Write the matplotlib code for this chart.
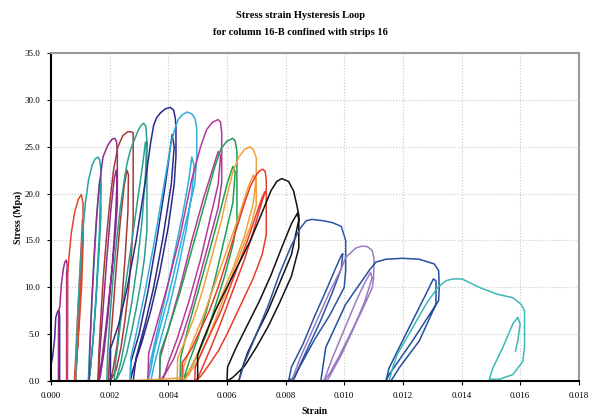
import matplotlib.pyplot as plt
from matplotlib.ticker import FormatStrFormatter

# ---------- DATA: strain / stress (MPa) traced per cycle ----------
c01_x = [0, 0, 0.00005, 0.00012, 0.00016, 0.00022, 0.00027, 0.00029, 0.00029, 0.00026, 0.00026, 0.00028, 0.00028]
c01_y = [0, 1.8, 2.5, 4.5, 6.8, 7.4, 7.6, 7.0, 0, 0, 7.1, 7.0, 0]

c02_x = [0.00025, 0.00026, 0.0003, 0.00035, 0.00042, 0.00047, 0.00052, 0.00055, 0.00055, 0.00053, 0.00053, 0.00056, 0.00056]
c02_y = [0, 7.5, 8.0, 10.3, 12.0, 12.7, 12.9, 12.4, 0, 0, 11.5, 11.8, 0]

c03_x = [0.00055, 0.00056, 0.0006, 0.00069, 0.00081, 0.00093, 0.00103, 0.00109, 0.00109, 0.00104, 0.00096, 0.00088,
         0.00082, 0.0008, 0.00086, 0.00094, 0.00102, 0.00107, 0.00109, 0.00105, 0.00097, 0.0009, 0.00084]
c03_y = [0, 11, 12.9, 15.8, 18.1, 19.4, 19.9, 19.0, 14.5, 10, 6, 2.5, 0.5, 0, 4, 9, 14, 17.2, 17.0, 13, 8, 3.5, 0]

c04_x = [0.00084, 0.00086, 0.00092, 0.001, 0.00108, 0.00117, 0.00128, 0.0014, 0.0015, 0.0016, 0.00166, 0.0017, 0.0017,
         0.00162, 0.00152, 0.00142, 0.00133, 0.00127, 0.00132, 0.00142, 0.00152, 0.0016, 0.00166, 0.00169, 0.00165,
         0.00155, 0.00145, 0.00135, 0.0013]
c04_y = [0, 3, 8, 12.5, 16, 19, 21.5, 23, 23.7, 23.9, 23.6, 22.5, 17.5, 13, 8, 4, 1, 0, 4, 10, 15.5, 19.5, 21.5, 21,
         16, 10, 5, 1.5, 0]

c05_x = [0.0013, 0.00132, 0.00138, 0.00146, 0.00155, 0.00165, 0.00177, 0.00194, 0.00208, 0.00217, 0.00223, 0.00226,
         0.00226, 0.0022, 0.0021, 0.00198, 0.00186, 0.00174, 0.00164, 0.0016, 0.00166, 0.00178, 0.0019, 0.00203,
         0.00215, 0.00222, 0.00225, 0.0022, 0.00208, 0.00194, 0.0018, 0.00168, 0.00163]
c05_y = [0, 3, 8, 13, 17.5, 21, 23.9, 25.2, 25.8, 25.9, 25.6, 24.5, 19, 16, 12.5, 9, 5.5, 2.5, 0.5, 0, 3, 8, 13, 18,
         21.5, 22.5, 21.5, 17.5, 12, 7, 3, 0.5, 0]

c06_x = [0.0016, 0.00163, 0.0017, 0.00178, 0.00188, 0.002, 0.00213, 0.00228, 0.00245, 0.00262, 0.00272, 0.0028,
         0.0028, 0.00275, 0.00265, 0.00252, 0.00238, 0.00222, 0.00205, 0.00195, 0.002, 0.0021, 0.00222, 0.00236,
         0.0025, 0.00259, 0.00264, 0.00262, 0.00252, 0.0024, 0.00226, 0.0021, 0.002]
c06_y = [0, 3, 7, 11, 15, 19, 22.5, 25, 26.2, 26.6, 26.6, 26.5, 17.2, 14, 10, 6.5, 3.5, 1.2, 0.2, 0, 3, 7, 12, 17,
         21, 22.5, 22, 18, 13, 8, 4, 1, 0]

c07_x = [0.0019, 0.00193, 0.002, 0.0021, 0.00222, 0.00236, 0.0025, 0.00259, 0.00272, 0.00285, 0.00298, 0.00308,
         0.00316, 0.00323, 0.00327, 0.00327, 0.00318, 0.00306, 0.00292, 0.00276, 0.00258, 0.0024, 0.00225, 0.00215,
         0.0022, 0.00232, 0.00246, 0.00262, 0.00278, 0.00296, 0.00312, 0.00322, 0.00326, 0.00322, 0.0031, 0.00294,
         0.00276, 0.00256, 0.00238, 0.00225, 0.0022]
c07_y = [0, 3, 6.5, 10.5, 14.5, 18.5, 21.5, 23.2, 24.8, 25.8, 26.8, 27.3, 27.5, 27.2, 25.5, 16.1, 13, 10.5, 8, 5.5,
         3, 1.2, 0.3, 0, 2, 5, 8.5, 12, 15.5, 19.5, 23, 25.5, 25.5, 22, 17, 12.5, 8.5, 5, 2, 0.5, 0]

c08_x = [0.00202, 0.00203, 0.0023, 0.0026, 0.0029, 0.0032, 0.0034, 0.0035, 0.0036, 0.00373, 0.0039, 0.00407, 0.00418,
         0.00424, 0.00426, 0.00426, 0.0042, 0.004, 0.0037, 0.0034, 0.0031, 0.0028, 0.0027, 0.00272, 0.003, 0.0033,
         0.0036, 0.0039, 0.00405, 0.00413, 0.0042, 0.0041, 0.0038, 0.0035, 0.0032, 0.0029, 0.0028]
c08_y = [0, 3.5, 6, 10, 15, 21, 25.5, 27.3, 28.1, 28.6, 29.05, 29.2, 28.9, 28.0, 27, 24, 21, 16.5, 11.5, 7.5, 4.2,
         1.3, 0, 2, 5, 9.5, 15, 21, 24.5, 26.3, 25, 21, 15, 10, 6, 2.5, 0]

c09_x = [0.0027, 0.00272, 0.0029, 0.0032, 0.0035, 0.0038, 0.0041, 0.00425, 0.00434, 0.00447, 0.00464, 0.0048,
         0.00491, 0.00497, 0.00497, 0.0049, 0.0046, 0.0043, 0.004, 0.0037, 0.0035, 0.0034, 0.0033, 0.00335, 0.0036,
         0.0039, 0.0042, 0.0045, 0.0047, 0.0048, 0.00488, 0.0048, 0.0046, 0.0043, 0.004, 0.0037, 0.0035, 0.0034]
c09_y = [0, 2.5, 5, 9.5, 14.5, 20, 25.5, 27.2, 27.9, 28.4, 28.7, 28.5, 28.0, 27, 24, 21, 17, 13, 9, 5.5, 3, 1.2, 0,
         1.5, 5, 9, 13.5, 18, 21.5, 23.9, 23, 20, 16, 11.5, 7.5, 4, 1.5, 0]

c10_x = [0.0033, 0.00333, 0.0036, 0.004, 0.0044, 0.0048, 0.0051, 0.0053, 0.0055, 0.0057, 0.00578, 0.00582, 0.00582,
         0.0057, 0.0054, 0.0051, 0.0048, 0.0045, 0.0042, 0.0039, 0.0037, 0.00372, 0.004, 0.0044, 0.0048, 0.0052,
         0.0055, 0.0057, 0.00578, 0.0057, 0.0054, 0.0051, 0.0047, 0.0043, 0.004, 0.0038]
c10_y = [0, 3, 6, 10.5, 15.5, 21.5, 25, 26.8, 27.6, 27.9, 27.6, 26.5, 21.2, 18.5, 15, 11.5, 8, 5, 2.5, 0.8, 0, 2.5,
         5.5, 10, 15, 19.5, 22.5, 24.5, 24, 21, 17, 13, 8.5, 4.5, 2, 0]

c11_x = [0.0037, 0.00372, 0.004, 0.0044, 0.0048, 0.0052, 0.0056, 0.0058, 0.006, 0.0062, 0.00628, 0.00634, 0.00634,
         0.0062, 0.0059, 0.0056, 0.0053, 0.005, 0.0047, 0.0045, 0.0044, 0.00442, 0.0047, 0.0051, 0.0055, 0.0058,
         0.006, 0.0062, 0.00628, 0.0062, 0.0059, 0.0056, 0.0053, 0.005, 0.0047, 0.0045]
c11_y = [0, 3, 5.5, 9.5, 14, 18.5, 23, 24.8, 25.6, 25.9, 25.6, 24.5, 17, 14.5, 11, 8, 5, 2.8, 1, 0.2, 0, 2.5, 6,
         10.5, 15, 18.5, 21, 22.9, 22.3, 19, 15, 11, 7.5, 4.5, 2, 0]

c12_x = [0.0043, 0.00432, 0.0046, 0.0049, 0.0052, 0.0055, 0.0058, 0.006, 0.0062, 0.0064, 0.0066, 0.00678, 0.0069,
         0.007, 0.007, 0.0068, 0.0065, 0.0062, 0.0059, 0.0056, 0.0053, 0.005, 0.0047, 0.0045, 0.00452, 0.0048,
         0.0052, 0.0056, 0.006, 0.0064, 0.0067, 0.0069, 0.00698, 0.0069, 0.0066, 0.0062, 0.0058, 0.0054, 0.005,
         0.0047, 0.00455]
c12_y = [0, 2.5, 4.5, 7, 10, 13.5, 17, 19.8, 22.3, 23.9, 24.7, 25.0, 24.7, 23.8, 18.8, 16.5, 14, 11.5, 9, 6.5, 4.2,
         2.2, 0.7, 0, 1.5, 4, 7, 10.5, 14, 17.5, 20.5, 22.0, 21.3, 19, 15.5, 12, 9, 6, 3, 1, 0]

# orange trace lying along the strain axis
base_x = [0, 0.001, 0.002, 0.003, 0.0037, 0.0042, 0.0045]
base_y = [0, 0, 0.02, 0.1, 0.2, 0.3, 0.3]

c13_x = [0.00446, 0.00448, 0.0048, 0.0051, 0.0054, 0.0057, 0.006, 0.0063, 0.0066, 0.0068, 0.007, 0.0071, 0.00722,
         0.0073, 0.00734, 0.00734, 0.0072, 0.0069, 0.0066, 0.0063, 0.006, 0.0057, 0.0054, 0.0051, 0.0049, 0.00492,
         0.0052, 0.0055, 0.0058, 0.0061, 0.0064, 0.0067, 0.007, 0.0072, 0.0073, 0.0072, 0.0069, 0.0066, 0.0063,
         0.006, 0.0057, 0.0054, 0.0051, 0.00495]
c13_y = [0, 2, 3.5, 5.5, 7.5, 10, 13, 16, 19, 20.8, 22, 22.4, 22.6, 22.4, 21.5, 15.6, 13.5, 11, 9, 7, 5, 3.2, 1.8,
         0.5, 0, 1.5, 3.5, 5.5, 7.5, 10, 12.5, 15, 17.8, 19.6, 20.2, 19.2, 16, 13, 10.5, 8, 5.5, 3.2, 1, 0]

c14_x = [0.005, 0.005, 0.0052, 0.0056, 0.006, 0.0064, 0.0068, 0.0072, 0.0075, 0.0077, 0.00787, 0.0081, 0.00827,
         0.00838, 0.00845, 0.00845, 0.0082, 0.0078, 0.0074, 0.007, 0.0066, 0.0062, 0.006, 0.00602, 0.0063, 0.0067,
         0.0071, 0.0075, 0.0079, 0.0082, 0.0084, 0.00845, 0.0082, 0.0078, 0.0074, 0.007, 0.0067, 0.0065, 0.0064]
c14_y = [0, 2.8, 4.5, 7.5, 10, 12.5, 15, 18, 20.3, 21.3, 21.6, 21.3, 20.3, 18.8, 17.7, 14.2, 11.2, 8.4, 5.8, 3.6,
         1.6, 0.4, 0, 1.5, 3.5, 6, 8.5, 11.3, 14.5, 16.8, 17.9, 17.2, 13.5, 10.5, 7.5, 5, 3, 1.2, 0]

c15_x = [0.0064, 0.0066, 0.007, 0.0074, 0.0078, 0.0082, 0.0085, 0.0087, 0.0089, 0.0093, 0.0096, 0.0099, 0.01005,
         0.01005, 0.01, 0.0095, 0.009, 0.0086, 0.0083, 0.0081, 0.0082, 0.0086, 0.009, 0.0094, 0.0097, 0.0099,
         0.00995, 0.0099, 0.0096, 0.0092, 0.0088, 0.0085, 0.0083, 0.0082]
c15_y = [0, 2, 5, 8, 11.5, 14.5, 16.3, 17.1, 17.25, 17.1, 16.9, 16.5, 15, 11.8, 10, 7, 4.5, 2.2, 0.5, 0, 1.5, 4,
         7, 9.8, 12, 13.4, 13.6, 12, 9.5, 6.5, 3.8, 1.8, 0.3, 0]

c16_x = [0.0082, 0.0085, 0.009, 0.0095, 0.0099, 0.01005, 0.0104, 0.0106, 0.01079, 0.01096, 0.01102, 0.011, 0.01096,
         0.0106, 0.0102, 0.0098, 0.0095, 0.0093, 0.0096, 0.01, 0.0104, 0.0107, 0.0109, 0.01095, 0.0107, 0.0103,
         0.0099, 0.0095, 0.0094]
c16_y = [0, 2.5, 6, 9.5, 12, 13.2, 14.2, 14.4, 14.35, 13.9, 12.9, 11, 10, 7.5, 5, 2.5, 0.8, 0, 2.5, 5.5, 8.5, 10.5,
         11.6, 11, 8.5, 5.5, 2.8, 0.5, 0]

c17_x = [0.0092, 0.00937, 0.01005, 0.01085, 0.01108, 0.01142, 0.01199, 0.01256, 0.01307, 0.01322, 0.01324, 0.01322,
         0.01233, 0.01153, 0.01142, 0.01153, 0.0121, 0.01279, 0.01304, 0.01313, 0.01313, 0.01256, 0.01187, 0.01159]
c17_y = [0, 3.6, 8.2, 11.8, 12.7, 13.0, 13.1, 13.0, 12.5, 11.8, 10, 8.6, 4.3, 0.7, 0, 1.4, 5, 9.3, 10.9, 10.7, 8.2,
         4.3, 1.4, 0]

c18_x = [0.01153, 0.01165, 0.0118, 0.01233, 0.01279, 0.01319, 0.01347, 0.0137, 0.01402, 0.01461, 0.01518, 0.01575,
         0.01603, 0.01615, 0.01615, 0.01609, 0.01575, 0.01529, 0.01495, 0.01507, 0.01541, 0.01575, 0.01592, 0.016,
         0.01592, 0.01584]
c18_y = [0, 1.4, 2.8, 5.7, 8.2, 10, 10.7, 10.9, 10.9, 10, 9.3, 8.9, 8.2, 7.5, 3.6, 2.1, 0.7, 0.2, 0.2, 1.4, 3.6,
         6.1, 6.8, 6.1, 4.3, 3.2]

x_ticks = [0.000, 0.002, 0.004, 0.006, 0.008, 0.010, 0.012, 0.014, 0.016, 0.018]
y_ticks = [0, 5, 10, 15, 20, 25, 30, 35]

# ---------- STYLE ----------
plt.rcParams['font.family'] = ['Liberation Serif', 'DejaVu Serif']

loops = [
    (c01_x, c01_y, '#3a2f8f'), (c02_x, c02_y, '#a1288f'), (c03_x, c03_y, '#e2452b'),
    (c04_x, c04_y, '#2aa3a6'), (c05_x, c05_y, '#8c2c8e'), (c06_x, c06_y, '#a53a38'),
    (c07_x, c07_y, '#2a9f8e'), (c08_x, c08_y, '#2a2a88'), (c09_x, c09_y, '#2fb0e0'),
    (c10_x, c10_y, '#b43a96'), (c11_x, c11_y, '#20a050'), (c12_x, c12_y, '#f2a03a'),
    (c13_x, c13_y, '#e63c2a'), (c14_x, c14_y, '#111111'), (c15_x, c15_y, '#2b55a3'),
    (c16_x, c16_y, '#9b7cc4'), (c17_x, c17_y, '#224f9e'), (c18_x, c18_y, '#3bb9b6'),
    (base_x, base_y, '#f2a03a'),
]

fig = plt.figure(figsize=(6.01, 4.17), dpi=100)
ax = fig.add_axes([0.085, 0.086, 0.878, 0.787])

for xs, ys, col in loops:
    ax.plot(xs, ys, color=col, lw=1.1, solid_joinstyle='round')

ax.set_xlim(0, 0.018)
ax.set_ylim(0, 35)
ax.set_xticks(x_ticks)
ax.set_yticks(y_ticks)
ax.xaxis.set_major_formatter(FormatStrFormatter('%.3f'))
ax.yaxis.set_major_formatter(FormatStrFormatter('%.1f'))
ax.tick_params(labelsize=6.5, length=3, width=0.8, direction='out', pad=5)
ax.grid(True, color='#c8c8c8', linestyle=':', linewidth=0.8)

for side in ['left', 'bottom']:
    ax.spines[side].set_color('black')
    ax.spines[side].set_linewidth(1.5)
for side in ['top', 'right']:
    ax.spines[side].set_color('#9a9a9a')
    ax.spines[side].set_linewidth(1.5)

ax.set_xlabel('Strain', fontsize=7, fontweight='bold', labelpad=5)
ax.set_ylabel('Stress (Mpa)', fontsize=7, fontweight='bold', labelpad=1)

fig.text(0.5, 0.963, 'Stress strain Hysteresis Loop', ha='center', va='center',
         fontsize=7.5, fontweight='bold')
fig.text(0.5, 0.922, 'for column 16-B confined with strips 16', ha='center', va='center',
         fontsize=7.5, fontweight='bold')

plt.savefig('out.png', dpi=100)
